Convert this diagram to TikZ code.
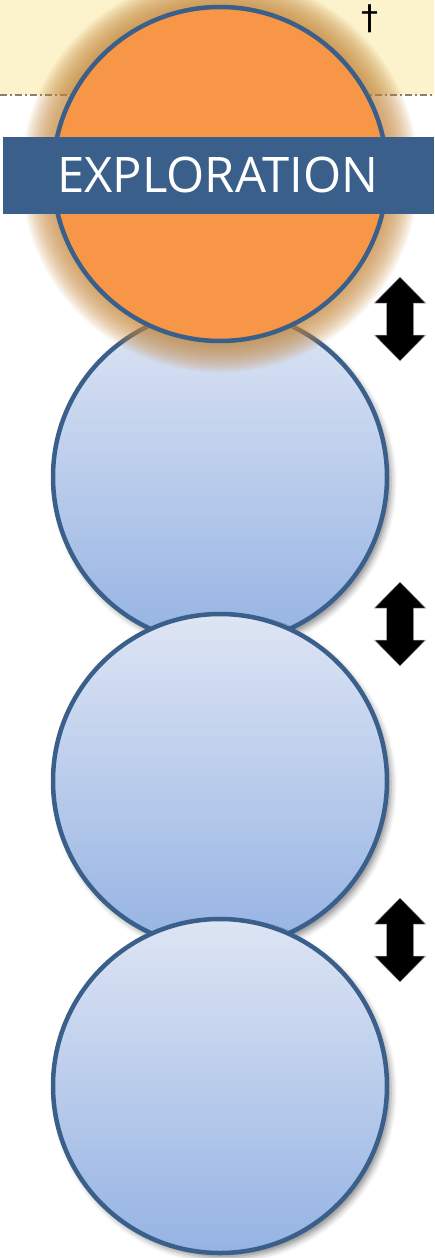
\documentclass[tikz,border=0pt]{standalone}
\usepackage{fontspec}
\setmainfont{Open Sans}
\newfontfamily\symfont{DejaVu Sans}
\usetikzlibrary{shadows.blur}
\definecolor{bandyellow}{HTML}{FCF3CC}
\definecolor{edgeblue}{HTML}{3A5F8B}
\definecolor{topblue}{HTML}{DEE5F4}
\definecolor{botblue}{HTML}{95B3E3}
\definecolor{orangefill}{HTML}{F79646}
\definecolor{glowcol}{HTML}{C4863A}
\definecolor{dashgray}{HTML}{888070}
\tikzset{
  bluecirc/.style={circle, minimum size=334pt, inner sep=0pt, draw=edgeblue, line width=4.5pt,
    top color=topblue, bottom color=botblue,
    blur shadow={shadow xshift=4pt, shadow yshift=-5pt, shadow blur radius=6pt, shadow opacity=45}},
  orangecirc/.style={circle, minimum size=334pt, inner sep=0pt, draw=edgeblue, line width=4.5pt,
    fill=orangefill},
  glowring/.style={fill=glowcol, fill opacity=0.07, draw=none},
  banner/.style={rectangle, fill=edgeblue, text=white, inner sep=0pt, minimum width=431pt, minimum height=77pt, font=\fontsize{49}{52}\selectfont},
  arrowfill/.style={fill=black, draw=gray!70, line width=0.5pt},
  sep/.style={draw=dashgray, line width=1.2pt, dash pattern=on 7pt off 3pt on 2pt off 3pt}
}
\begin{document}
\begin{tikzpicture}[x=1pt,y=-1pt]
\useasboundingbox (0,0) rectangle (434,1258);
\fill[bandyellow] (0,0) rectangle (434,95);
\coordinate (sepL) at (0,95);
\coordinate (sepR) at (434,95);
\draw[sep] (sepL) -- (sepR);
% blue circles
\node[bluecirc] (c2) at (220,477) {};
\node[bluecirc] (c3) at (220,781) {};
\node[bluecirc] (c4) at (220,1086) {};
% orange circle with glow
\coordinate (oc) at (220,174);
\foreach \i in {1,...,18}{
  \fill[glowring] (oc) circle[radius=168+1.7*\i];
}
\node[orangecirc] (c1) at (oc) {};
% banner
\node[banner] (lab) at (218,175) {EXPLORATION};
% dagger
\node[font=\symfont\fontsize{34}{36}\selectfont, inner sep=0pt] (dag) at (370,19) {†};
% double arrows
\foreach \n/\c in {a1/319, a2/624, a3/940}{
  \coordinate (\n) at (400,\c);
  \fill[arrowfill] (\n) ++(0,-42) -- ++(25.5,26) -- ++(-12,0) -- ++(0,32) -- ++(12,0)
     -- ++(-25.5,26) -- ++(-25.5,-26) -- ++(12,0) -- ++(0,-32) -- ++(-12,0) -- cycle;
}
\end{tikzpicture}
\end{document}
